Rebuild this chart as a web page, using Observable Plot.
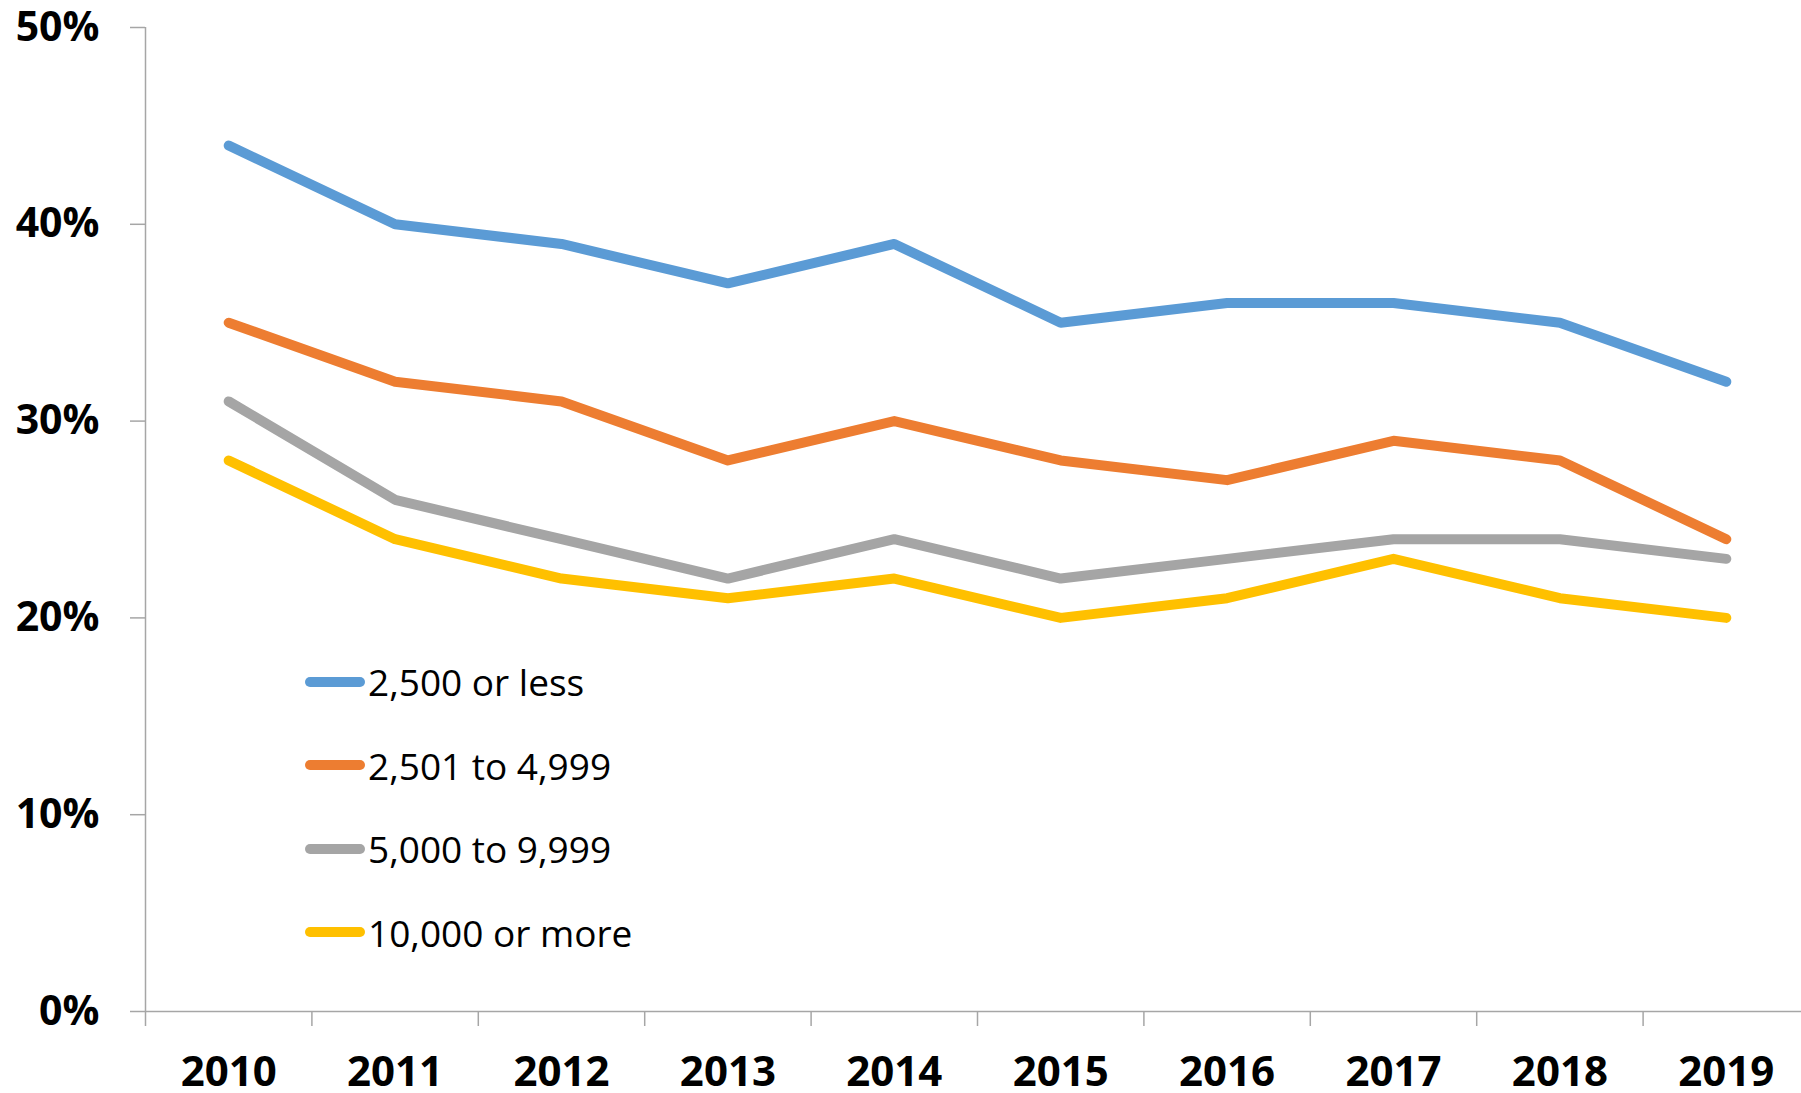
<!DOCTYPE html>
<html>
<head>
<meta charset="utf-8">
<script src="https://cdn.jsdelivr.net/npm/d3@7"></script>
<script src="https://cdn.jsdelivr.net/npm/@observablehq/plot@0.6"></script>
<style>
  html, body { margin: 0; padding: 0; background: #fff; }
  #wrap { position: relative; width: 1801px; height: 1093px; overflow: hidden; }
  #legend { position: absolute; left: 305px; top: 640px; font-family: "Open Sans", sans-serif; font-size: 37px; color: #000; }
  .row { display: flex; align-items: center; height: 83.5px; }
  .sw { display: inline-block; width: 60px; height: 10px; border-radius: 5px; margin-right: 3px; }
</style>
</head>
<body>
<div id="wrap"></div>
<script>
const years = [2010, 2011, 2012, 2013, 2014, 2015, 2016, 2017, 2018, 2019];
const seriesNames = ["2,500 or less", "2,501 to 4,999", "5,000 to 9,999", "10,000 or more"];
const seriesColors = ["#5B9BD5", "#ED7D31", "#A5A5A5", "#FFC000"];
const lessThan2500 = [44, 40, 39, 37, 39, 35, 36, 36, 35, 32];
const from2501to4999 = [35, 32, 31, 28, 30, 28, 27, 29, 28, 24];
const from5000to9999 = [31, 26, 24, 22, 24, 22, 23, 24, 24, 23];
const over10000 = [28, 24, 22, 21, 22, 20, 21, 23, 21, 20];
const yTicks = [0, 0.1, 0.2, 0.3, 0.4, 0.5];

const allSeries = [lessThan2500, from2501to4999, from5000to9999, over10000];
const rows = [];
allSeries.forEach((vals, i) => vals.forEach((v, j) => rows.push({series: seriesNames[i], year: years[j], value: v / 100})));
const boundaries = years.map(y => y - 0.5).concat([years[years.length - 1] + 0.5]);

const font = "'Open Sans', sans-serif";
const axisColor = "#A6A6A6";

const chart = Plot.plot({
  width: 1801,
  height: 1093,
  marginLeft: 145,
  marginRight: 0,
  marginTop: 27,
  marginBottom: 82,
  style: { fontFamily: font, background: "#fff", overflow: "visible" },
  x: { type: "linear", domain: [2009.5, 2019.5], range: [145, 1809] },
  y: { domain: [0, 0.5] },
  color: { domain: seriesNames, range: seriesColors },
  marks: [
    Plot.axisY({ ticks: yTicks, tickFormat: d3.format(".0%"), tickSize: 15, tickPadding: 31,
      fontSize: 41, fontWeight: "bold", stroke: axisColor, strokeWidth: 1.5, fill: "#000", label: null }),
    Plot.axisX({ ticks: boundaries, tickFormat: () => "", tickSize: 15, stroke: axisColor, strokeWidth: 1.5, label: null }),
    Plot.axisX({ ticks: years, tickFormat: d => String(d), tickSize: 0, tickPadding: 45,
      fontSize: 42, fontWeight: "bold", fill: "#000", label: null }),
    Plot.ruleX([boundaries[0]], { y1: 0, y2: 0.5, stroke: axisColor, strokeWidth: 1.5 }),
    Plot.ruleY([0], { stroke: axisColor, strokeWidth: 1.5 }),
    Plot.line(rows, { x: "year", y: "value", z: "series", stroke: "series", strokeWidth: 10,
      strokeLinecap: "round", strokeLinejoin: "round" })
  ]
});

const wrap = document.getElementById("wrap");
wrap.appendChild(chart);

const legend = document.createElement("div");
legend.id = "legend";
seriesNames.forEach((name, i) => {
  const row = document.createElement("div");
  row.className = "row";
  const sw = document.createElement("span");
  sw.className = "sw";
  sw.style.background = seriesColors[i];
  const label = document.createElement("span");
  label.textContent = name;
  row.appendChild(sw);
  row.appendChild(label);
  legend.appendChild(row);
});
wrap.appendChild(legend);
</script>
</body>
</html>
